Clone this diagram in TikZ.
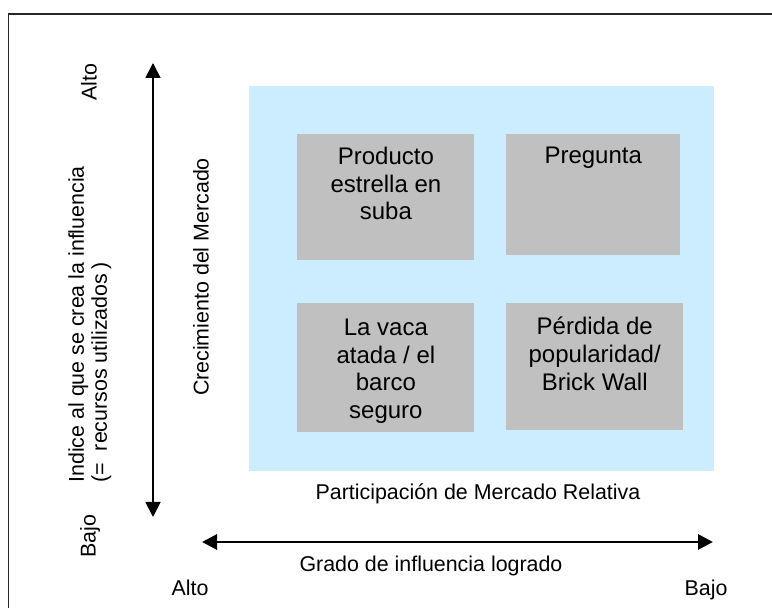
\documentclass[tikz,border=0pt]{standalone}
\usepackage{fontspec}
\setmainfont{Liberation Sans}
\usetikzlibrary{arrows.meta}
\usetikzlibrary{positioning}
\definecolor{marketblue}{HTML}{CCECFF}
\definecolor{cellgray}{HTML}{C0C0C0}

\begin{document}
\begin{tikzpicture}[x=0.5pt,y=-0.5pt]
\tikzset{cell/.style={rectangle,fill=cellgray,inner sep=0pt,anchor=north west},
celltext/.style={anchor=north,inner sep=0pt,align=center,font=\fontsize{12}{13.8}\selectfont},
axislabel/.style={inner sep=0pt,font=\fontsize{10.7}{14}\selectfont},
axisarrow/.style={{Triangle[length=7.5pt,width=7.5pt]}-{Triangle[length=7.5pt,width=7.5pt]}}}
\useasboundingbox (0,0) rectangle (772,608);
\clip (0,0) rectangle (772,608);
\draw[line width=0.7pt,black!85] (8.5,14) rectangle (800,640);
\node[fill=marketblue,inner sep=0pt,minimum width=232.5pt,minimum height=192.5pt,anchor=north west](market) at (249,86) {};
\node[cell,minimum width=88.5pt,minimum height=63pt](star) at (297,134) {};
\node[cell,minimum width=87pt,minimum height=60.5pt](question)[right=15.5pt of star.north east,anchor=north west] {};
\node[cell,minimum width=88.5pt,minimum height=64.5pt](cow)[below=21pt of star.south west,anchor=north west] {};
\node[cell,minimum width=88.5pt,minimum height=63.5pt](wall)[right=15.5pt of cow.north east,anchor=north west] {};
\node[celltext](startext) at ([yshift=-6.5pt]star.north) {Producto\\estrella en\\suba};
\node[celltext](questiontext) at ([yshift=-6.5pt]question.north) {Pregunta};
\node[celltext](cowtext) at ([yshift=-8pt]cow.north) {La vaca\\atada / el\\barco\\seguro};
\node[celltext](walltext) at ([yshift=-7pt]wall.north) {Pérdida de\\popularidad/\\Brick Wall};
% ejes
\coordinate (vtop) at (153,63);
\coordinate (vbottom) at (153,517);
\draw[axisarrow,line width=0.9pt] (vtop) -- (vbottom);
\coordinate (hleft) at (202,542);
\coordinate (hright) at (713,542);
\draw[axisarrow,line width=1.4pt] (hleft) -- (hright);
\node[axislabel,rotate=90](vhigh) at (89,82) {Alto};
\node[axislabel,rotate=90](vlow) at (90,536) {Bajo};
\node[axislabel,rotate=90,anchor=north west,align=left,font=\fontsize{10.7}{11.5}\selectfont](effort) at (68,483) {Indice al que se crea la influencia\\(=\hspace{3pt} recursos utilizados\hspace{2pt})};
\node[axislabel,rotate=90](growth) at (201,277) {Crecimiento del Mercado};
\node[axislabel,anchor=base](share) at (478,500) {Participación de Mercado Relativa};
\node[axislabel,anchor=base](reach) at (431,572) {Grado de influencia logrado};
\node[axislabel,anchor=base](hhigh) at (190,596) {Alto};
\node[axislabel,anchor=base](hlow) at (706,596) {Bajo};
\end{tikzpicture}
\end{document}
